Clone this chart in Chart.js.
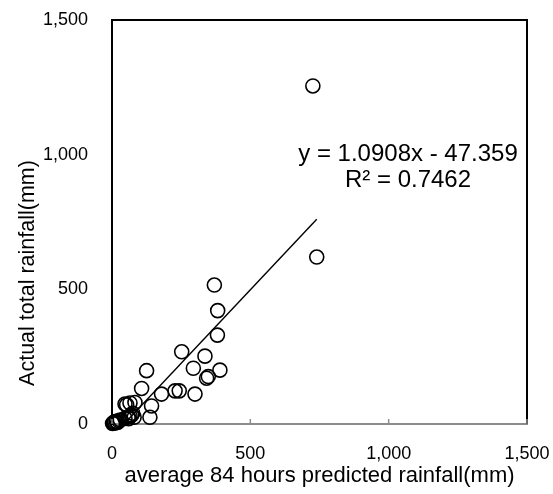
<!DOCTYPE html>
<html>
<head>
<meta charset="utf-8">
<script src="https://cdn.jsdelivr.net/npm/chart.js@4"></script>
<style>
  body { margin: 0; background: #fff; }
  #wrap { width: 553px; height: 494px; }
</style>
</head>
<body>
<div id="wrap"><canvas id="scatter-rain"></canvas></div>
<script>
// predicted (x) vs actual (y) rainfall, mm
const predicted = [726, 740, 370, 382, 381, 252, 336, 125, 294, 390, 342, 348, 107, 179, 228, 243, 300, 143, 137,
    65, 83, 47, 53, 75, 47, 59, 71, 65, 80, 60, 5, 10, 15, 20, 25, 2, 30, 8];
const actual = [1255, 620, 516, 421, 330, 268, 252, 198, 207, 200, 170, 176, 132, 111, 123, 123, 111, 67, 25,
    78, 80, 74, 71, 40, 21, 27, 33, 30, 25, 20, 5, 8, 10, 6, 12, 2, 15, 3];
const axisTicks = [0, 500, 1000, 1500];
const slope = 1.0908;
const intercept = -47.359;
const eqLabel = 'y = 1.0908x - 47.359';
const r2Label = 'R² = 0.7462';
const xTitle = 'average 84 hours predicted rainfall(mm)';
const yTitle = 'Actual total rainfall(mm)';

const points = predicted.map((x, i) => ({ x: x, y: actual[i] }));
const xMax = Math.max(...predicted);
const xStart = -intercept / slope; // where trendline meets y = 0
const trend = [
    { x: xStart, y: 0 },
    { x: xMax, y: slope * xMax + intercept }
];

const fontFam = '"Liberation Sans", Arial, sans-serif';

const extras = {
    id: 'extras',
    afterDraw(chart) {
        const c = chart.ctx;
        const a = chart.chartArea;
        c.save();
        // top + right frame
        c.strokeStyle = '#000';
        c.lineWidth = 2;
        c.beginPath();
        c.moveTo(a.left, a.top);
        c.lineTo(a.right, a.top);
        c.lineTo(a.right, a.bottom);
        c.stroke();
        // small inward ticks on x axis
        c.strokeStyle = '#8c8c8c';
        c.lineWidth = 1.5;
        const xs = chart.scales.x;
        axisTicks.forEach(v => {
            const px = xs.getPixelForValue(v);
            c.beginPath();
            c.moveTo(px, a.bottom);
            c.lineTo(px, a.bottom - 5);
            c.stroke();
        });
        // y title
        c.fillStyle = '#000';
        c.font = '21.5px ' + fontFam;
        c.textAlign = 'center';
        c.textBaseline = 'middle';
        c.translate(28, 273);
        c.rotate(-Math.PI / 2);
        c.fillText(yTitle, 0, 0);
        c.restore();
        // trendline equation
        c.save();
        c.fillStyle = '#000';
        c.font = '24px ' + fontFam;
        c.textAlign = 'center';
        c.textBaseline = 'middle';
        c.fillText(eqLabel, 408, 154);
        c.fillText(r2Label, 408, 180);
        c.restore();
    }
};

new Chart(document.getElementById('scatter-rain'), {
    type: 'scatter',
    data: {
        datasets: [{
            label: 'data',
            data: points,
            pointStyle: 'circle',
            pointRadius: 7,
            pointHoverRadius: 7,
            pointBorderWidth: 1.6,
            borderColor: '#000',
            backgroundColor: 'rgba(0,0,0,0)',
            clip: false
        }, {
            type: 'line',
            label: 'trend',
            data: trend,
            borderColor: '#000',
            borderWidth: 1.4,
            pointRadius: 0,
            fill: false
        }]
    },
    options: {
        responsive: true,
        maintainAspectRatio: false,
        animation: false,
        layout: { autoPadding: false, padding: { top: 20, right: 26, left: 0, bottom: 0 } },
        plugins: {
            legend: { display: false },
            tooltip: { enabled: false }
        },
        scales: {
            x: {
                type: 'linear',
                min: 0,
                max: 1500,
                afterFit(scale) {
                    scale.height = 70;
                    scale.paddingLeft = 0;
                    scale.paddingRight = 0;
                },
                afterBuildTicks(scale) { scale.ticks = axisTicks.map(v => ({ value: v })); },
                grid: { display: false },
                border: { display: true, color: '#8c8c8c', width: 2 },
                ticks: {
                    padding: 11,
                    color: '#000',
                    font: { size: 18, family: fontFam },
                    maxRotation: 0,
                    callback: v => v.toLocaleString('en-US')
                },
                title: {
                    display: true,
                    text: xTitle,
                    color: '#000',
                    font: { size: 22, family: fontFam },
                    padding: { top: 0, bottom: 5 }
                }
            },
            y: {
                type: 'linear',
                min: 0,
                max: 1500,
                afterFit(scale) {
                    scale.width = 112;
                    scale.paddingTop = 0;
                    scale.paddingBottom = 0;
                },
                afterBuildTicks(scale) { scale.ticks = axisTicks.map(v => ({ value: v })); },
                grid: { display: false },
                border: { display: true, color: '#000', width: 2 },
                ticks: {
                    padding: 16,
                    color: '#000',
                    font: { size: 18, family: fontFam },
                    callback: v => v.toLocaleString('en-US')
                }
            }
        }
    },
    plugins: [extras]
});
</script>
</body>
</html>
